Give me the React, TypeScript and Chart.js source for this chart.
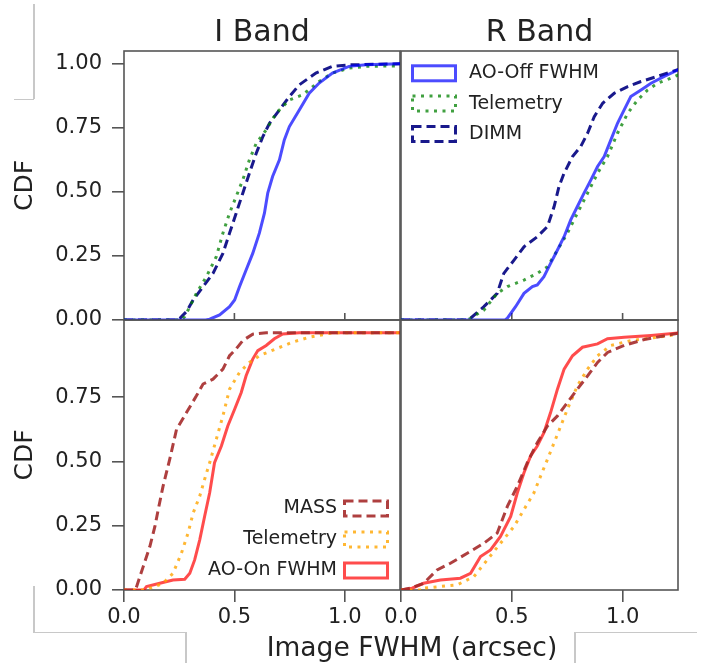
import React, { useEffect, useRef } from 'react';
import { Chart, registerables } from 'chart.js';

Chart.register(...registerables);

const FIG_W = 709;
const FIG_H = 663;
const FONT = '"DejaVu Sans", "Liberation Sans", sans-serif';
const TEXT = '#222222';
const FRAME = '#555555';

type Pt = [number, number];

// ---------- data: [image FWHM (arcsec), CDF] ----------
// I band, AO off
const iAoOff: Pt[] = [[0, 0], [0.37, 0], [0.388, 0.003], [0.433, 0.02], [0.478, 0.052], [0.501, 0.078], [0.523, 0.13], [0.553, 0.195], [0.583, 0.26], [0.613, 0.339], [0.636, 0.417], [0.651, 0.495], [0.673, 0.56], [0.704, 0.625], [0.726, 0.703], [0.749, 0.755], [0.794, 0.82], [0.839, 0.885], [0.884, 0.925], [0.944, 0.964], [1.019, 0.99], [1.095, 0.996], [1.26, 1.0]];
const iTelemetryOff: Pt[] = [[0, 0], [0.26, 0], [0.275, 0.013], [0.298, 0.052], [0.328, 0.104], [0.373, 0.169], [0.418, 0.247], [0.448, 0.339], [0.478, 0.417], [0.508, 0.482], [0.538, 0.547], [0.568, 0.625], [0.599, 0.69], [0.644, 0.742], [0.689, 0.807], [0.749, 0.859], [0.809, 0.879], [0.884, 0.931], [0.944, 0.964], [1.019, 0.983], [1.095, 0.99], [1.26, 0.992]];
const iDimm: Pt[] = [[0, 0], [0.24, 0], [0.253, 0.007], [0.283, 0.033], [0.313, 0.078], [0.358, 0.13], [0.403, 0.182], [0.448, 0.26], [0.478, 0.339], [0.508, 0.417], [0.538, 0.495], [0.568, 0.573], [0.599, 0.651], [0.629, 0.716], [0.659, 0.768], [0.704, 0.82], [0.749, 0.872], [0.794, 0.918], [0.869, 0.964], [0.944, 0.99], [1.019, 0.996], [1.26, 1.0]];
// R band, AO off
const rAoOff: Pt[] = [[0, 0], [0.47, 0], [0.48, 0.007], [0.517, 0.052], [0.555, 0.104], [0.593, 0.13], [0.615, 0.137], [0.645, 0.169], [0.675, 0.221], [0.706, 0.273], [0.736, 0.325], [0.766, 0.391], [0.796, 0.443], [0.826, 0.495], [0.857, 0.547], [0.887, 0.599], [0.917, 0.638], [0.947, 0.703], [0.977, 0.768], [1.007, 0.82], [1.037, 0.872], [1.083, 0.898], [1.128, 0.924], [1.188, 0.951], [1.26, 0.98]];
const rTelemetryOff: Pt[] = [[0, 0], [0.3, 0], [0.314, 0.007], [0.374, 0.039], [0.434, 0.104], [0.48, 0.13], [0.555, 0.156], [0.615, 0.182], [0.661, 0.208], [0.706, 0.273], [0.751, 0.339], [0.796, 0.417], [0.842, 0.495], [0.887, 0.573], [0.932, 0.638], [0.977, 0.729], [1.023, 0.807], [1.068, 0.859], [1.113, 0.898], [1.158, 0.924], [1.218, 0.944], [1.26, 0.96]];
const rDimm: Pt[] = [[0, 0], [0.3, 0], [0.314, 0.007], [0.374, 0.052], [0.434, 0.104], [0.464, 0.182], [0.51, 0.234], [0.555, 0.286], [0.615, 0.325], [0.661, 0.365], [0.691, 0.443], [0.713, 0.521], [0.736, 0.573], [0.774, 0.638], [0.811, 0.677], [0.842, 0.729], [0.872, 0.794], [0.91, 0.846], [0.962, 0.885], [1.023, 0.911], [1.083, 0.931], [1.158, 0.951], [1.26, 0.98]];
// I band, AO on
const iMass: Pt[] = [[0, 0], [0.05, 0], [0.057, 0.013], [0.087, 0.091], [0.117, 0.169], [0.14, 0.247], [0.155, 0.313], [0.177, 0.404], [0.207, 0.508], [0.238, 0.625], [0.283, 0.69], [0.328, 0.755], [0.358, 0.801], [0.403, 0.82], [0.448, 0.859], [0.478, 0.911], [0.508, 0.938], [0.538, 0.97], [0.583, 0.995], [0.644, 1.0], [1.26, 1.0]];
const iTelemetryOn: Pt[] = [[0, 0], [0.1, 0], [0.117, 0.007], [0.177, 0.026], [0.222, 0.065], [0.26, 0.143], [0.29, 0.221], [0.313, 0.299], [0.343, 0.365], [0.365, 0.43], [0.388, 0.495], [0.418, 0.586], [0.448, 0.677], [0.478, 0.781], [0.523, 0.846], [0.568, 0.885], [0.613, 0.911], [0.689, 0.938], [0.764, 0.964], [0.839, 0.983], [0.944, 1.0], [1.26, 1.0]];
const iAoOn: Pt[] = [[0, 0], [0.09, 0], [0.102, 0.013], [0.162, 0.026], [0.222, 0.039], [0.275, 0.042], [0.298, 0.065], [0.32, 0.117], [0.343, 0.195], [0.365, 0.286], [0.388, 0.378], [0.41, 0.495], [0.441, 0.56], [0.47, 0.638], [0.501, 0.703], [0.531, 0.768], [0.553, 0.833], [0.583, 0.898], [0.606, 0.931], [0.644, 0.951], [0.681, 0.977], [0.719, 0.996], [0.794, 1.0], [1.26, 1.0]];
// R band, AO on
const rMass: Pt[] = [[0, 0], [0.042, 0.007], [0.102, 0.026], [0.163, 0.078], [0.223, 0.104], [0.299, 0.143], [0.374, 0.182], [0.434, 0.221], [0.48, 0.325], [0.525, 0.404], [0.57, 0.495], [0.615, 0.573], [0.661, 0.638], [0.706, 0.677], [0.751, 0.729], [0.796, 0.781], [0.842, 0.833], [0.887, 0.885], [0.932, 0.924], [1.007, 0.951], [1.098, 0.974], [1.26, 1.0]];
const rTelemetryOn: Pt[] = [[0, 0], [0.1, 0], [0.102, 0.007], [0.253, 0.02], [0.329, 0.052], [0.389, 0.117], [0.449, 0.182], [0.51, 0.247], [0.555, 0.313], [0.6, 0.378], [0.63, 0.443], [0.661, 0.508], [0.691, 0.573], [0.721, 0.638], [0.751, 0.703], [0.796, 0.794], [0.842, 0.859], [0.887, 0.911], [0.947, 0.951], [1.037, 0.97], [1.158, 0.983], [1.26, 0.996]];
const rAoOn: Pt[] = [[0, 0], [0.05, 0.007], [0.102, 0.026], [0.178, 0.039], [0.268, 0.046], [0.314, 0.065], [0.359, 0.13], [0.404, 0.156], [0.449, 0.208], [0.495, 0.286], [0.525, 0.378], [0.555, 0.456], [0.585, 0.521], [0.615, 0.56], [0.645, 0.612], [0.675, 0.69], [0.706, 0.781], [0.736, 0.859], [0.774, 0.911], [0.819, 0.944], [0.887, 0.957], [0.932, 0.977], [1.007, 0.983], [1.128, 0.99], [1.26, 1.0]];

const panelTitles = ['I Band', 'R Band'];
const xAxisTitle = 'Image FWHM (arcsec)';
const yAxisTitle = 'CDF';
const xTickValues = [0, 0.5, 1.0];
const yTickValuesTop = [0, 0.25, 0.5, 0.75, 1.0];
const yTickValuesBottom = [0, 0.25, 0.5, 0.75];
const aoOffLabels = ['AO-Off FWHM', 'Telemetry', 'DIMM'];
const aoOnLabels = ['MASS', 'Telemetry', 'AO-On FWHM'];

// ---------- styles ----------
const styles = {
  aoOff: { color: 'rgba(0,0,255,0.7)', dash: [] as number[] },
  telOff: { color: 'rgba(0,128,0,0.75)', dash: [3, 5.5] },
  dimm: { color: 'rgba(0,0,128,0.9)', dash: [9, 5] },
  mass: { color: 'rgba(165,42,42,0.9)', dash: [9, 5] },
  telOn: { color: 'rgba(255,165,0,0.8)', dash: [3, 5.5] },
  aoOn: { color: 'rgba(255,0,0,0.7)', dash: [] as number[] },
};

const Y_AXIS_W = 114;
const X_AXIS_H = 50;

const panels = [
  {
    id: 'iOff', row: 0, col: 0, area: { l: 124, t: 51, r: 400, b: 320 },
    series: [[aoOffLabels[0], iAoOff, styles.aoOff], [aoOffLabels[1], iTelemetryOff, styles.telOff], [aoOffLabels[2], iDimm, styles.dimm]],
    yTicks: yTickValuesTop, title: panelTitles[0], legend: null,
  },
  {
    id: 'rOff', row: 0, col: 1, area: { l: 401, t: 51, r: 678, b: 320 },
    series: [[aoOffLabels[0], rAoOff, styles.aoOff], [aoOffLabels[1], rTelemetryOff, styles.telOff], [aoOffLabels[2], rDimm, styles.dimm]],
    yTicks: yTickValuesTop, title: panelTitles[1], legend: { x: 412.5, y: 73.3, step: 30.3, align: 'left' },
  },
  {
    id: 'iOn', row: 1, col: 0, area: { l: 124, t: 320, r: 400, b: 590 },
    series: [[aoOnLabels[0], iMass, styles.mass], [aoOnLabels[1], iTelemetryOn, styles.telOn], [aoOnLabels[2], iAoOn, styles.aoOn]],
    yTicks: yTickValuesBottom, title: null, legend: { x: 344.5, y: 508.5, step: 31, align: 'right' },
    xTitle: true,
  },
  {
    id: 'rOn', row: 1, col: 1, area: { l: 401, t: 320, r: 678, b: 590 },
    series: [[aoOnLabels[0], rMass, styles.mass], [aoOnLabels[1], rTelemetryOn, styles.telOn], [aoOnLabels[2], rAoOn, styles.aoOn]],
    yTicks: yTickValuesBottom, title: null, legend: null,
  },
];

const decorPlugin = {
  id: 'panelDecor',
  beforeDatasetsDraw(chart: any, _args: any, opts: any) {
    const { ctx, chartArea: ca } = chart;
    ctx.save();
    ctx.strokeStyle = FRAME;
    ctx.lineWidth = 1.6;
    ctx.setLineDash([]);
    ctx.strokeRect(ca.left, ca.top, ca.right - ca.left, ca.bottom - ca.top);
    if (opts.innerTicks) {
      const xs = chart.scales.x;
      for (const v of xTickValues) {
        if (v <= xs.min) continue;
        const px = xs.getPixelForValue(v);
        ctx.beginPath();
        ctx.moveTo(px, ca.bottom);
        ctx.lineTo(px, ca.bottom - 7);
        ctx.stroke();
      }
    }
    ctx.restore();
  },
  afterDatasetsDraw(chart: any, _args: any, opts: any) {
    const { ctx, chartArea: ca } = chart;
    ctx.save();
    const lg = opts.legend;
    if (lg) {
      const bw = 43;
      const bh = 15;
      ctx.font = `19px ${FONT}`;
      ctx.textBaseline = 'middle';
      chart.data.datasets.forEach((ds: any, i: number) => {
        const cy = lg.y + i * lg.step;
        ctx.strokeStyle = ds.borderColor;
        ctx.lineWidth = 3;
        ctx.lineJoin = 'miter';
        ctx.setLineDash(ds.borderDash || []);
        ctx.strokeRect(lg.x, cy - bh / 2, bw, bh);
        ctx.setLineDash([]);
        ctx.fillStyle = TEXT;
        if (lg.align === 'left') {
          ctx.textAlign = 'left';
          ctx.fillText(ds.label, lg.x + bw + 13.5, cy);
        } else {
          ctx.textAlign = 'right';
          ctx.fillText(ds.label, lg.x - 7.5, cy);
        }
      });
    }
    ctx.textBaseline = 'alphabetic';
    ctx.textAlign = 'center';
    ctx.fillStyle = TEXT;
    if (opts.title) {
      ctx.font = `30px ${FONT}`;
      ctx.fillText(opts.title, (ca.left + ca.right) / 2, 41);
    }
    if (opts.xTitle) {
      ctx.font = `26.5px ${FONT}`;
      ctx.fillText(xAxisTitle, 412, 656);
    }
    ctx.restore();
  },
};

function buildConfig(p: any): any {
  const a = p.area;
  const isLeft = p.col === 0;
  const isBottom = p.row === 1;
  const tickFont = { family: FONT, size: 21 };
  return {
    type: 'line',
    data: {
      datasets: p.series.map(([label, arr, st]: any, i: number) => ({
        label,
        data: (arr as Pt[]).map(([x, y]) => ({ x, y })),
        borderColor: st.color,
        backgroundColor: 'transparent',
        borderDash: st.dash,
        borderWidth: 3,
        borderCapStyle: 'butt',
        pointRadius: 0,
        pointHoverRadius: 0,
        fill: false,
        tension: 0,
        order: i,
      })),
    },
    options: {
      animation: false,
      responsive: false,
      maintainAspectRatio: false,
      events: [],
      layout: {
        padding: {
          left: isLeft ? a.l - Y_AXIS_W : a.l,
          top: a.t,
          right: FIG_W - a.r,
          bottom: isBottom ? FIG_H - a.b - X_AXIS_H : FIG_H - a.b,
        },
      },
      plugins: {
        legend: { display: false },
        tooltip: { enabled: false },
        panelDecor: { legend: p.legend, title: p.title, xTitle: !!p.xTitle, innerTicks: !isBottom },
      },
      scales: {
        x: {
          type: 'linear',
          min: 0,
          max: 1.25,
          display: isBottom,
          afterFit: (s: any) => { s.height = isBottom ? X_AXIS_H : 0; },
          afterBuildTicks: (s: any) => { s.ticks = xTickValues.map((value) => ({ value })); },
          ticks: {
            font: tickFont, color: TEXT, padding: 3, maxRotation: 0, autoSkip: false,
            callback: (v: any) => Number(v).toFixed(1),
          },
          grid: { drawOnChartArea: false, drawTicks: true, tickLength: 12, color: FRAME, lineWidth: 1.6 },
          border: { display: false },
        },
        y: {
          type: 'linear',
          min: 0,
          max: 1.05,
          display: isLeft,
          afterFit: (s: any) => { s.width = isLeft ? Y_AXIS_W : 0; },
          afterBuildTicks: (s: any) => { s.ticks = p.yTicks.map((value: number) => ({ value })); },
          ticks: {
            font: tickFont, color: TEXT, padding: 10, autoSkip: false,
            callback: (v: any) => Number(v).toFixed(2),
          },
          grid: { drawOnChartArea: false, drawTicks: true, tickLength: 12, color: FRAME, lineWidth: 1.6 },
          border: { display: false },
          title: {
            display: true, text: yAxisTitle, color: TEXT,
            font: { family: FONT, size: 25 }, padding: { top: 0, bottom: 0 },
          },
        },
      },
    },
    plugins: [decorPlugin],
  };
}

function Panel({ cfg }: { cfg: any }) {
  const ref = useRef<HTMLCanvasElement>(null);
  useEffect(() => {
    if (!ref.current) return;
    const chart = new Chart(ref.current, buildConfig(cfg));
    return () => chart.destroy();
  }, [cfg]);
  return (
    <canvas
      ref={ref}
      width={FIG_W}
      height={FIG_H}
      style={{ position: 'absolute', left: 0, top: 0, width: FIG_W, height: FIG_H }}
    />
  );
}

const ART = '#c8c8c8';
function Line({ x, y, w, h }: { x: number; y: number; w: number; h: number }) {
  return <div style={{ position: 'absolute', left: x, top: y, width: w, height: h, background: ART }} />;
}

export default function App() {
  return (
    <div style={{ position: 'fixed', left: 0, top: 0, width: FIG_W, height: FIG_H, background: '#ffffff', overflow: 'hidden' }}>
      <Line x={33} y={4} w={1.5} h={95} />
      <Line x={14} y={98.5} w={20} h={1.5} />
      <Line x={33} y={586} w={1.5} h={46} />
      <Line x={33} y={631.5} w={153} h={1.5} />
      <Line x={185} y={632} w={1.5} h={31} />
      <Line x={574} y={632} w={1.5} h={31} />
      <Line x={574} y={631.5} w={123} h={1.5} />
      {panels.map((p) => (
        <Panel key={p.id} cfg={p} />
      ))}
    </div>
  );
}
